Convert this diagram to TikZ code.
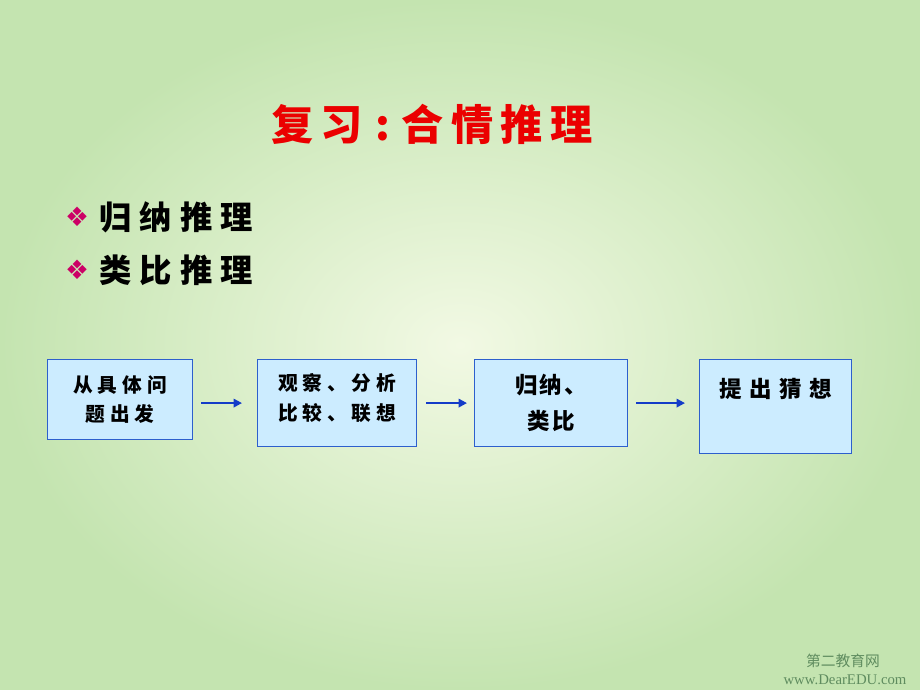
\documentclass[tikz,border=0pt]{standalone}
\usepackage{fontspec}
\setmainfont{Liberation Serif}
\newfontfamily\cjk{Noto Sans CJK SC}
\newfontfamily\sym{DejaVu Sans}
\usetikzlibrary{arrows.meta}
\definecolor{bgout}{RGB}{196,228,176}
\definecolor{bgin}{RGB}{242,249,228}
\definecolor{boxfill}{RGB}{204,236,255}
\definecolor{boxline}{RGB}{45,95,205}
\definecolor{flowblue}{RGB}{20,60,200}
\definecolor{titlered}{RGB}{235,0,0}
\definecolor{dotpink}{RGB}{204,0,102}
\definecolor{markgray}{RGB}{95,140,95}
\tikzset{
  box/.style={
    draw=boxline,
    line width=0.8pt,
    fill=boxfill,
    inner sep=0pt,
    anchor=north west,
    align=center,
    font=\cjk\bfseries\fontsize{14}{21}\selectfont\addfontfeatures{LetterSpace=25}
  },
  bigbox/.style={box, font=\cjk\bfseries\fontsize{16}{26}\selectfont\addfontfeatures{LetterSpace=10}},
  flow/.style={draw=flowblue, line width=1.5pt, -{Triangle[length=6pt,width=6pt]}},
  ttl/.style={font=\cjk\bfseries\fontsize{30}{34}\selectfont\addfontfeatures{LetterSpace=18}, text=titlered, inner sep=0pt},
  item/.style={font=\cjk\bfseries\fontsize{23}{26}\selectfont\addfontfeatures{LetterSpace=25}, inner sep=0pt, anchor=west},
  dot/.style={font=\sym\fontsize{19}{22}\selectfont, text=dotpink, inner sep=0pt},
  wmark/.style={text=markgray, inner sep=0pt, align=center},
}

\begin{document}
\begin{tikzpicture}[x=0.025cm, y=-0.025cm]
  % background
  \shade[inner color=bgin, outer color=bgout] (0,0) rectangle (920,690);
  \useasboundingbox (0,0) rectangle (920,690);

  \node[ttl] (title) at (432,124) {复习\hspace{0.3em}:\hspace{0.25em}合情推理};

  \node[dot] (d1) at (77,217) {❖};
  \node[item] (i1) at (99,217) {归纳推理};
  \node[dot] (d2) at (77,270) {❖};
  \node[item] (i2) at (99,270) {类比推理};

  % flow of boxes
  \node[box, minimum width=3.625cm, minimum height=2cm] (b1) at (47,359) {从具体问\\题出发};
  \node[box, minimum width=3.975cm, minimum height=2.175cm] (b2) at (257,359) {观察、分析\\比较、联想\\[-12pt]~};
  \node[bigbox, minimum width=3.825cm, minimum height=2.175cm] (b3) at (474,359) {归纳、\\类比};
  \node[bigbox, minimum width=3.8cm, minimum height=2.35cm] (b4) at (699,359) {\addfontfeatures{LetterSpace=33}提出猜想\\ ~};

  \draw[flow, shorten <=0.2cm, shorten >=0.375cm] (b1.east |- b2.west) -- (b2.west);
  \draw[flow, shorten <=0.225cm, shorten >=0.175cm] (b2.east) -- (b3.west);
  \draw[flow, shorten <=0.2cm, shorten >=0.35cm] (b3.east) -- (b4.west |- b3.east);

  \node[wmark, font=\cjk\fontsize{10.5}{12}\selectfont] (m1) at (843,661) {第二教育网};
  \node[wmark, font=\fontsize{10.5}{12}\selectfont] (m2) at (845,680) {www.DearEDU.com};
\end{tikzpicture}
\end{document}
